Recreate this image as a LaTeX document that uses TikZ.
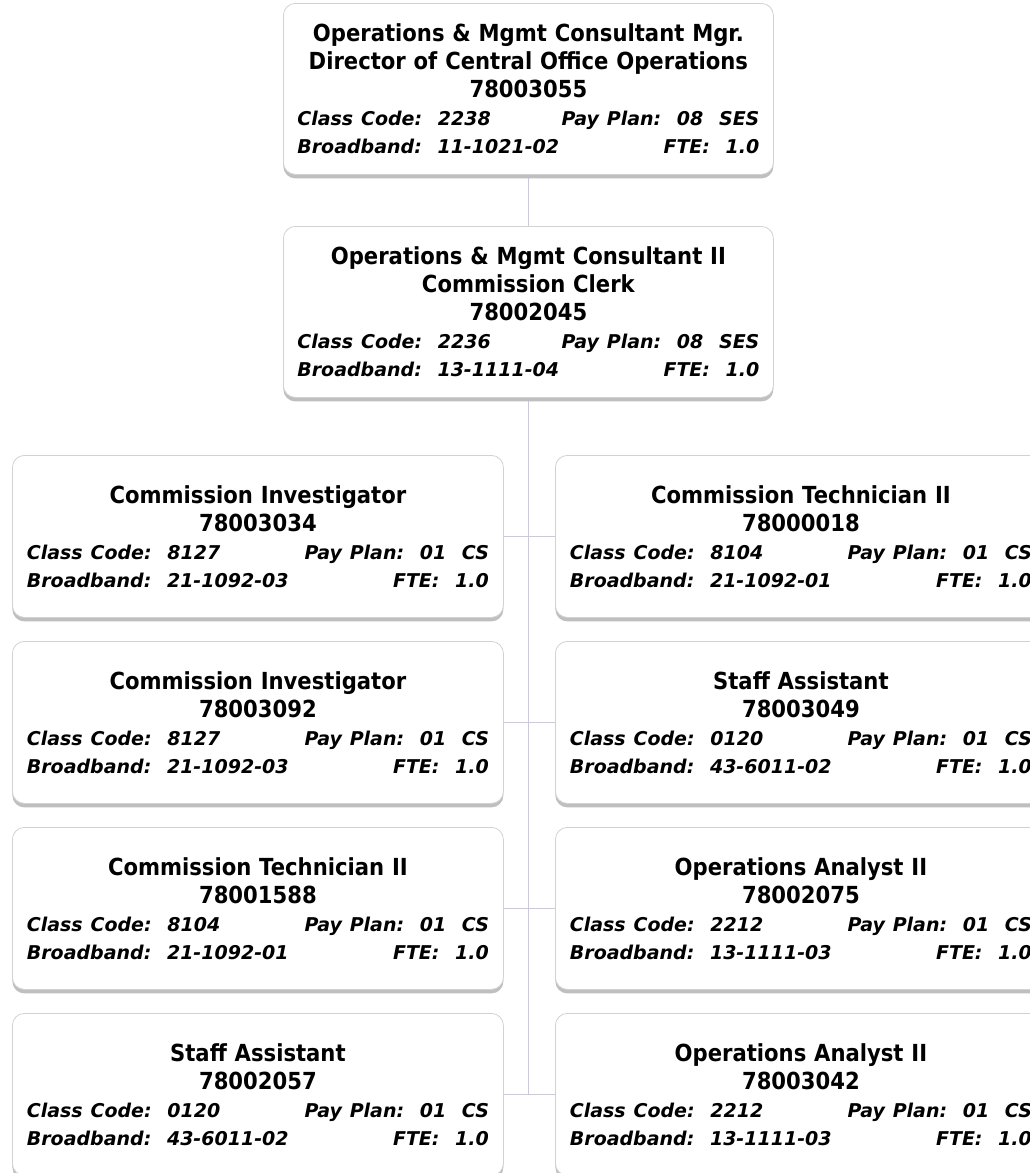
\documentclass[tikz,border=0pt]{standalone}
\usepackage{fontspec}
\setmainfont{DejaVu Sans}
\newfontfamily\titlefont{DejaVu Sans}[FakeStretch=0.9]
\usetikzlibrary{shadows, backgrounds}

\tikzset{
    jobbox/.style={draw=gray!35, line width=0.8pt, fill=white, rounded corners=12pt,
        drop shadow={shadow xshift=0pt, shadow yshift=-4pt, fill=gray!50, opacity=1},
        text width=462pt, inner xsep=14.5pt, inner ysep=0pt, minimum height=162pt,
        align=center, anchor=north west,
        font=\titlefont\bfseries\fontsize{23.5}{28}\selectfont},
    headbox/.style={jobbox, inner xsep=14pt, minimum height=171pt},
    orgline/.style={draw={rgb,255:red,205;green,200;blue,218}, line width=0.8pt}
}
\newcommand{\jobinfo}[4]{{\normalfont\bfseries\itshape\fontsize{19}{28}\selectfont
    Class Code:~~#1\hfill Pay Plan:~~#2\\ Broadband:~~#3\hfill FTE:~~#4}}

\begin{document}
\begin{tikzpicture}[x=1pt, y=-1pt]
    \useasboundingbox (0, 0) rectangle (1030, 1173);

    \node[headbox] (top) at (283, 3) {Operations \& Mgmt Consultant Mgr.\\ Director of Central Office Operations\\ 78003055\\ \jobinfo{2238}{08~~SES}{11-1021-02}{1.0}};
    \node[headbox] (mid) at (283, 226) {Operations \& Mgmt Consultant II\\ Commission Clerk\\ 78002045\\ \jobinfo{2236}{08~~SES}{13-1111-04}{1.0}};

    \node[jobbox] (L1) at (12, 455) {Commission Investigator\\ 78003034\\ \jobinfo{8127}{01~~CS}{21-1092-03}{1.0}};
    \node[jobbox] (L2) at (12, 641) {Commission Investigator\\ 78003092\\ \jobinfo{8127}{01~~CS}{21-1092-03}{1.0}};
    \node[jobbox] (L3) at (12, 827) {Commission Technician II\\ 78001588\\ \jobinfo{8104}{01~~CS}{21-1092-01}{1.0}};
    \node[jobbox] (L4) at (12, 1013) {Staff Assistant\\ 78002057\\ \jobinfo{0120}{01~~CS}{43-6011-02}{1.0}};

    \node[jobbox] (R1) at (555, 455) {Commission Technician II\\ 78000018\\ \jobinfo{8104}{01~~CS}{21-1092-01}{1.0}};
    \node[jobbox] (R2) at (555, 641) {Staff Assistant\\ 78003049\\ \jobinfo{0120}{01~~CS}{43-6011-02}{1.0}};
    \node[jobbox] (R3) at (555, 827) {Operations Analyst II\\ 78002075\\ \jobinfo{2212}{01~~CS}{13-1111-03}{1.0}};
    \node[jobbox] (R4) at (555, 1013) {Operations Analyst II\\ 78003042\\ \jobinfo{2212}{01~~CS}{13-1111-03}{1.0}};

    \begin{scope}[on background layer]
        \draw[orgline] (top.south) -- (mid.north);
        \draw[orgline] (mid.south) -- (mid.south |- L4.east);
        \draw[orgline] (L1.east) -- (R1.west);
        \draw[orgline] (L2.east) -- (R2.west);
        \draw[orgline] (L3.east) -- (R3.west);
        \draw[orgline] (L4.east) -- (R4.west);
    \end{scope}
\end{tikzpicture}
\end{document}
